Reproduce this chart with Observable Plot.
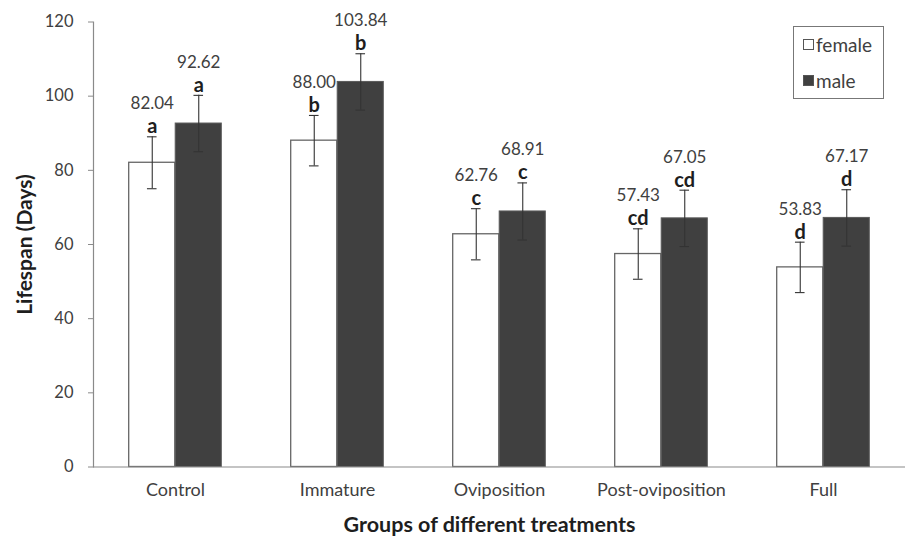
<!DOCTYPE html>
<html>
<head>
<meta charset="utf-8">
<script src="https://cdn.jsdelivr.net/npm/d3@7"></script>
<script src="https://cdn.jsdelivr.net/npm/@observablehq/plot@0.6"></script>
<style>
  html, body { margin: 0; padding: 0; background: #fff; overflow: hidden; }
  #wrap { position: relative; width: 905px; height: 540px; font-family: Lato, "Open Sans", sans-serif; }
  #legend { position: absolute; left: 793px; top: 26px; width: 89px; height: 71px; border: 1px solid #777; background: #fff; }
  .item { position: absolute; left: 9px; display: flex; align-items: center; font-size: 19px; color: #404040; line-height: 1; }
  .sw { width: 11px; height: 11px; margin-right: 2px; box-sizing: border-box; border: 1px solid #555; }
</style>
</head>
<body>
<div id="wrap">
  <div id="legend">
    <div class="item" style="top:8px"><span class="sw" style="background:#fff"></span>female</div>
    <div class="item" style="top:44px"><span class="sw" style="background:#404040"></span>male</div>
  </div>
</div>
<script>
const categories = ["Control", "Immature", "Oviposition", "Post-oviposition", "Full"];
const femaleValues = [82.04, 88.00, 62.76, 57.43, 53.83];
const maleValues = [92.62, 103.84, 68.91, 67.05, 67.17];
const femaleErrors = [7.0, 6.8, 6.9, 6.8, 6.8];
const maleErrors = [7.6, 7.6, 7.7, 7.6, 7.6];
const femaleLetters = ["a", "b", "c", "cd", "d"];
const maleLetters = ["a", "b", "c", "cd", "d"];
const yTicks = [0, 20, 40, 60, 80, 100, 120];

const female = categories.map((c, i) => ({cat: c, value: femaleValues[i], err: femaleErrors[i], letter: femaleLetters[i]}));
const male = categories.map((c, i) => ({cat: c, value: maleValues[i], err: maleErrors[i], letter: maleLetters[i]}));

const W = 905, H = 540, mL = 93, mR = 0, mT = 21.5, mB = 73.5;
const bw = (W - mL - mR) / categories.length;
const half = bw / 2;
const barW = 46.5;
const off = barW / 2;
const cap = 5;
const axisGray = "#8a8a8a";
const errColor = "#333";

function errMarks(data, sign) {
  const c = half + sign * off; // center of bar within band
  return [
    Plot.ruleX(data, {x: "cat", y1: d => d.value - d.err, y2: d => d.value + d.err, dx: sign * off, stroke: errColor, strokeWidth: 1.1}),
    Plot.tickY(data, {x: "cat", y: d => d.value + d.err, insetLeft: c - cap, insetRight: bw - c - cap, stroke: errColor, strokeWidth: 1.1}),
    Plot.tickY(data, {x: "cat", y: d => d.value - d.err, insetLeft: c - cap, insetRight: bw - c - cap, stroke: errColor, strokeWidth: 1.1}),
    Plot.text(data, {x: "cat", y: d => d.value + d.err, dx: sign * off, dy: -10, text: "letter", fontWeight: "bold", fontSize: 20, fill: "#1e1e1e", lineAnchor: "middle"}),
    Plot.text(data, {x: "cat", y: d => d.value + d.err, dx: sign * off, dy: -33, text: d => d.value.toFixed(2), fontSize: 17, fill: "#404040", lineAnchor: "middle"})
  ];
}

const chart = Plot.plot({
  width: W, height: H,
  marginLeft: mL, marginRight: mR, marginTop: mT, marginBottom: mB,
  style: {fontFamily: "Lato, 'Open Sans', sans-serif", color: "#404040", background: "transparent"},
  x: {domain: categories, padding: 0, label: null},
  y: {domain: [0, 120], label: null},
  marks: [
    Plot.barY(female, {x: "cat", y: "value", fill: "#ffffff", stroke: "#666", strokeWidth: 1.3, insetLeft: half - barW, insetRight: half}),
    Plot.barY(male, {x: "cat", y: "value", fill: "#404040", stroke: "#5a5a5a", strokeWidth: 1, insetLeft: half, insetRight: half - barW}),
    ...errMarks(female, -1),
    ...errMarks(male, 1),
    Plot.ruleY([0], {stroke: axisGray, strokeWidth: 1.2}),
    Plot.frame({anchor: "left", stroke: axisGray, strokeWidth: 1.2}),
    Plot.axisY({ticks: yTicks, tickSize: 5, tickPadding: 15, fontSize: 16.5, stroke: axisGray, label: null}),
    Plot.axisX({tickSize: 0, tickPadding: 16, fontSize: 18, label: null}),
    Plot.text(["Groups of different treatments"], {text: d => d, frameAnchor: "bottom", textAnchor: "middle", dx: -10, dy: 58.5, lineAnchor: "middle", fontWeight: "bold", fontSize: 21.5, fill: "#1e1e1e"}),
    Plot.text(["Lifespan (Days)"], {text: d => d, frameAnchor: "left", textAnchor: "middle", dx: -68, rotate: -90, lineAnchor: "middle", fontWeight: "bold", fontSize: 21, fill: "#1e1e1e"})
  ]
});
document.getElementById("wrap").prepend(chart);
</script>
</body>
</html>
